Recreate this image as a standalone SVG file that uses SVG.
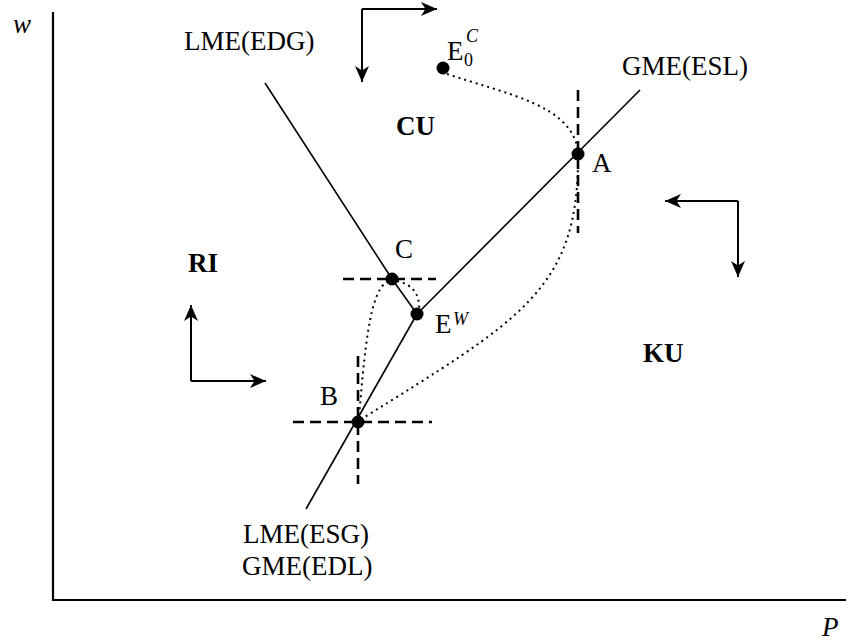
<svg xmlns="http://www.w3.org/2000/svg" width="846" height="644" viewBox="0 0 846 644">
  <style>
    text { font-family: "Liberation Serif", "Times New Roman", serif; font-size: 27px; fill: #000; }
    .it { font-style: italic; }
    .bd { font-weight: bold; }
    .sm { font-size: 18px; }
    .axis { stroke: #000; stroke-width: 2.2; fill: none; }
    .curve { stroke: #000; stroke-width: 1.6; fill: none; }
    .guide { stroke: #000; stroke-width: 2.6; stroke-dasharray: 11 6; fill: none; }
    .path { stroke: #000; stroke-width: 2; stroke-dasharray: 2 4; fill: none; }
    .flow { stroke: #000; stroke-width: 2; fill: none; marker-end: url(#head); }
    .dot { fill: #000; }
  </style>
  <defs>
    <marker id="head" markerUnits="userSpaceOnUse" markerWidth="17" markerHeight="15" viewBox="0 -7.5 17 15" refX="16" refY="0" orient="auto">
      <path d="M0,-7 L16,0 L0,7 L4.5,0 z" fill="#000"/>
    </marker>
  </defs>

  <!-- axes -->
  <g id="axes">
    <line class="axis" x1="53" y1="12" x2="53" y2="601"/>
    <line class="axis" x1="52" y1="600" x2="846" y2="600"/>
    <text class="it" x="13" y="33">w</text>
    <text class="it" x="822" y="636">P</text>
  </g>

  <!-- equilibrium loci, guides and adjustment paths -->
  <g id="connectors">
    <polyline class="curve" points="265,83 392,279 417,314"/>
    <line class="curve" x1="640" y1="90" x2="417" y2="314"/>
    <line class="curve" x1="417" y1="314" x2="306" y2="509"/>

    <!-- dashed guides at the equilibria -->
    <line class="guide" x1="578" y1="90" x2="578" y2="233"/>
    <line class="guide" x1="343" y1="279" x2="436" y2="279"/>
    <line class="guide" x1="293" y1="422" x2="432" y2="422"/>
    <line class="guide" x1="358" y1="356" x2="358" y2="484"/>

    <!-- adjustment paths -->
    <path class="path" d="M447,74 C510,95 570,105 578,150"/>
    <path class="path" d="M578,158 C578,290 520,320 360,420"/>
    <path class="path" d="M388,281 C372,290 366,330 359,418"/>
    <path class="path" d="M397,281 C410,284 420,292 419,309"/>
  </g>

  <!-- direction of motion in each region -->
  <g id="flows">
    <line class="flow" x1="362" y1="9" x2="437" y2="9"/>
    <line class="flow" x1="362" y1="9" x2="362" y2="82"/>
    <line class="flow" x1="738" y1="201" x2="665" y2="201"/>
    <line class="flow" x1="738" y1="201" x2="738" y2="277"/>
    <line class="flow" x1="191" y1="381" x2="191" y2="305"/>
    <line class="flow" x1="191" y1="381" x2="266" y2="381"/>
  </g>

  <!-- locus and region labels -->
  <g id="labels">
    <text x="184" y="50">LME(EDG)</text>
    <text x="622" y="75">GME(ESL)</text>
    <text x="243" y="543">LME(ESG)</text>
    <text x="242" y="575">GME(EDL)</text>
    <text class="bd" x="396" y="135">CU</text>
    <text class="bd" x="188" y="272">RI</text>
    <text class="bd" x="643" y="362">KU</text>
  </g>

  <!-- equilibrium points -->
  <g id="node-E0C">
    <circle class="dot" cx="443" cy="68" r="6.5"/>
    <text x="447" y="60">E</text>
    <text class="sm" x="464" y="66">0</text>
    <text class="sm it" x="466" y="42">C</text>
  </g>
  <g id="node-A">
    <circle class="dot" cx="578" cy="154" r="6.5"/>
    <text x="592" y="172">A</text>
  </g>
  <g id="node-C">
    <circle class="dot" cx="392" cy="279" r="6.5"/>
    <text x="395" y="258">C</text>
  </g>
  <g id="node-EW">
    <circle class="dot" cx="417" cy="314" r="6.5"/>
    <text x="435" y="333">E</text>
    <text class="sm it" x="453" y="325">W</text>
  </g>
  <g id="node-B">
    <circle class="dot" cx="358" cy="422" r="6.5"/>
    <text x="320" y="405">B</text>
  </g>
</svg>
